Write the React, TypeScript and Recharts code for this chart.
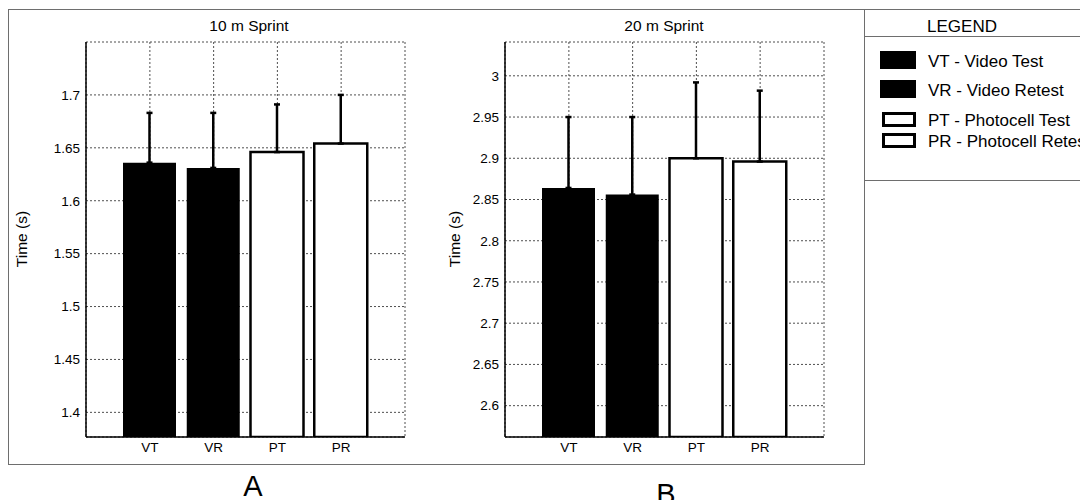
import React from 'react';
import { BarChart, Bar, XAxis, YAxis, CartesianGrid, ErrorBar, Cell } from 'recharts';

const categories = ['VT', 'VR', 'PT', 'PR'];
const filled = [true, true, false, false];

const sprint10Means = [1.636, 1.631, 1.646, 1.654];
const sprint10Errors = [0.047, 0.052, 0.045, 0.046];
const sprint10Ticks = [1.4, 1.45, 1.5, 1.55, 1.6, 1.65, 1.7];

const sprint20Means = [2.864, 2.856, 2.9, 2.896];
const sprint20Errors = [0.086, 0.094, 0.092, 0.086];
const sprint20Ticks = [2.6, 2.65, 2.7, 2.75, 2.8, 2.85, 2.9, 2.95, 3];

const legendLabels = ['VT - Video Test', 'VR - Video Retest', 'PT - Photocell Test', 'PR - Photocell Retest'];

const FONT = '"Liberation Sans", Arial, Helvetica, sans-serif';

function SprintChart(props: any) {
  const { left, title, titleX, means, errors, ticks, domain, yLabelX, letter, letterX, letterY } = props;
  const data = categories.map((c, i) => ({ name: c, value: means[i], err: [0, errors[i]] }));
  const axisLine = { stroke: '#000', strokeWidth: 1.5 };
  const tickStyle = { fill: '#000', fontSize: 13.5, fontFamily: FONT };

  return (
    <div style={{ position: 'absolute', left, top: 0, width: 430, height: 500 }}>
      <BarChart width={430} height={500} data={data} margin={{ top: 42, right: 25, bottom: 33, left: 26 }}>
        <CartesianGrid stroke="#222" strokeDasharray="2 2" strokeWidth={0.8} />
        <XAxis
          dataKey="name"
          padding={{ left: 32, right: 32 }}
          height={30}
          tickLine={false}
          tickSize={3}
          tickMargin={2}
          axisLine={axisLine}
          tick={tickStyle}
        />
        <XAxis xAxisId="top" orientation="top" dataKey="name" height={0} tick={false} tickLine={false} axisLine={axisLine} />
        <YAxis
          type="number"
          domain={domain}
          ticks={ticks}
          allowDataOverflow
          interval={0}
          width={60}
          tickLine={false}
          tickSize={4}
          tickMargin={2}
          axisLine={axisLine}
          tick={tickStyle}
        />
        <YAxis
          yAxisId="right"
          orientation="right"
          type="number"
          domain={domain}
          ticks={ticks}
          allowDataOverflow
          interval={0}
          width={0}
          mirror
          tickSize={5}
          tickFormatter={() => ''}
          tickLine={{ stroke: '#000', strokeWidth: 1 }}
          axisLine={axisLine}
        />
        <Bar dataKey="value" barSize={53} isAnimationActive={false}>
          {data.map((d, i) => (
            <Cell key={d.name} fill={filled[i] ? '#000' : '#fff'} stroke="#000" strokeWidth={filled[i] ? 0 : 2.5} />
          ))}
          <ErrorBar dataKey="err" direction="y" width={3} stroke="#000" strokeWidth={2.5} isAnimationActive={false} />
        </Bar>
      </BarChart>
      <div style={{ position: 'absolute', left: titleX, top: 26, transform: 'translate(-50%,-50%)', fontSize: 15.5, lineHeight: 1, whiteSpace: 'nowrap' }}>
        {title}
      </div>
      <div style={{ position: 'absolute', left: yLabelX, top: 239, transform: 'translate(-50%,-50%) rotate(-90deg)', fontSize: 15.5, lineHeight: 1, whiteSpace: 'nowrap' }}>
        Time (s)
      </div>
      <div style={{ position: 'absolute', left: letterX, top: letterY, transform: 'translate(-50%,-50%)', fontSize: 29, lineHeight: 1, whiteSpace: 'nowrap' }}>
        {letter}
      </div>
    </div>
  );
}

export default function App() {
  const legendTops = [51, 80, 112, 133];
  return (
    <div style={{ position: 'absolute', left: 0, top: 0, width: 1080, height: 500, overflow: 'hidden', background: '#fff', fontFamily: FONT, color: '#000' }}>
      {/* outer frame */}
      <div style={{ position: 'absolute', left: 8, top: 9, width: 857, height: 456, border: '1.5px solid #6e6e6e', boxSizing: 'border-box' }} />
      <div style={{ position: 'absolute', left: 864, top: 9, width: 230, height: 172, border: '1.5px solid #6e6e6e', boxSizing: 'border-box' }} />
      <div style={{ position: 'absolute', left: 864, top: 36, width: 230, height: 0, borderTop: '1.5px solid #6e6e6e' }} />

      <SprintChart
        left={0}
        title="10 m Sprint"
        titleX={249}
        means={sprint10Means}
        errors={sprint10Errors}
        ticks={sprint10Ticks}
        domain={[1.3767, 1.75]}
        yLabelX={22}
        letter="A"
        letterX={253}
        letterY={486}
      />
      <SprintChart
        left={419}
        title="20 m Sprint"
        titleX={245}
        means={sprint20Means}
        errors={sprint20Errors}
        ticks={sprint20Ticks}
        domain={[2.562, 3.041]}
        yLabelX={36}
        letter="B"
        letterX={247}
        letterY={494}
      />

      {/* legend */}
      <div style={{ position: 'absolute', left: 962, top: 26, transform: 'translate(-50%,-50%)', fontSize: 17, lineHeight: 1 }}>LEGEND</div>
      {legendTops.map((top, i) => (
        <div key={legendLabels[i]}>
          <div
            style={{
              position: 'absolute',
              left: filled[i] ? 880 : 882,
              top,
              width: filled[i] ? 36 : 34,
              height: filled[i] ? 18 : 15,
              background: filled[i] ? '#000' : '#fff',
              border: filled[i] ? 'none' : '3px solid #000',
              boxSizing: 'border-box',
            }}
          />
          <div style={{ position: 'absolute', left: 928, top: top + (filled[i] ? 10 : 8), transform: 'translateY(-50%)', fontSize: 17, lineHeight: 1, whiteSpace: 'nowrap' }}>
            {legendLabels[i]}
          </div>
        </div>
      ))}
    </div>
  );
}
